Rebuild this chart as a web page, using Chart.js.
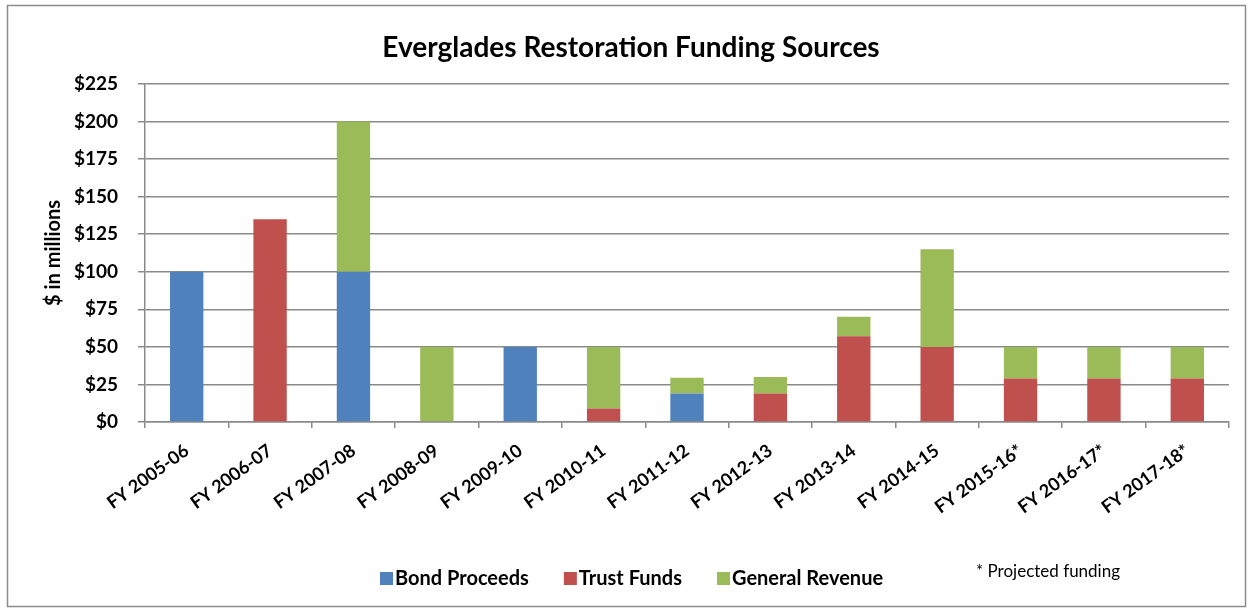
<!DOCTYPE html>
<html><head><meta charset="utf-8">
<script src="https://cdn.jsdelivr.net/npm/chart.js@4.4.1/dist/chart.umd.min.js"></script>
<style>html,body{margin:0;padding:0;background:#fff;overflow:hidden}canvas{display:block}</style>
</head><body>
<canvas id="c" width="1249" height="610"></canvas>
<script>
const categories = ['FY 2005-06','FY 2006-07','FY 2007-08','FY 2008-09','FY 2009-10','FY 2010-11','FY 2011-12','FY 2012-13','FY 2013-14','FY 2014-15','FY 2015-16*','FY 2016-17*','FY 2017-18*'];
const bondProceeds   = [100, 0, 100, 0, 50, 0, 19, 0, 0, 0, 0, 0, 0];
const trustFunds     = [0, 135, 0, 0, 0, 9, 0, 19, 57, 50, 29, 29, 29];
const generalRevenue = [0, 0, 100, 50, 0, 41, 10.5, 11, 13, 65, 21, 21, 21];
const yTickValues = [0, 25, 50, 75, 100, 125, 150, 175, 200, 225];
const seriesNames = ['Bond Proceeds', 'Trust Funds', 'General Revenue'];
const seriesColors = ['#4F81BD', '#C0504D', '#9BBB59'];
const chartTitle = 'Everglades Restoration Funding Sources';
const yAxisTitle = '$ in millions';
const footNote = '* Projected funding';

const FONT = 'Lato';
const GRID = '#8a8a8a';

const overlay = {
  id: 'overlay',
  beforeDraw(chart) {
    const ctx = chart.ctx;
    ctx.save();
    ctx.fillStyle = '#fff';
    ctx.fillRect(0, 0, chart.width, chart.height);
    ctx.restore();
  },
  afterDraw(chart) {
    const ctx = chart.ctx;
    ctx.save();
    ctx.strokeStyle = '#8c8c8c';
    ctx.lineWidth = 1.5;
    ctx.strokeRect(7.5, 5.5, 1238, 601);
    ctx.fillStyle = '#000';
    ctx.font = 'bold 28px ' + FONT;
    ctx.textAlign = 'center';
    ctx.textBaseline = 'alphabetic';
    ctx.fillText(chartTitle, 631, 57);
    // legend
    ctx.font = 'bold 20px ' + FONT;
    ctx.textAlign = 'left';
    ctx.textBaseline = 'middle';
    let x = 380;
    chart.data.datasets.forEach(ds => {
      ctx.fillStyle = ds.backgroundColor;
      ctx.fillRect(x, 572, 13, 13);
      ctx.fillStyle = '#000';
      ctx.fillText(ds.label, x + 15, 579);
      x += 15 + ctx.measureText(ds.label).width + 35;
    });
    ctx.font = '17px ' + FONT;
    ctx.fillText(footNote, 976, 572);
    ctx.restore();
  }
};

new Chart(document.getElementById('c'), {
  type: 'bar',
  data: {
    labels: categories,
    datasets: [
      { label: seriesNames[0], data: bondProceeds, backgroundColor: seriesColors[0] },
      { label: seriesNames[1], data: trustFunds, backgroundColor: seriesColors[1] },
      { label: seriesNames[2], data: generalRevenue, backgroundColor: seriesColors[2] }
    ]
  },
  plugins: [overlay],
  options: {
    responsive: false,
    animation: false,
    devicePixelRatio: 1,
    datasets: { bar: { categoryPercentage: 1, barPercentage: 0.40, borderWidth: 0 } },
    layout: { padding: { left: 0, right: 20, top: 84, bottom: 0 } },
    plugins: { legend: { display: false }, title: { display: false }, tooltip: { enabled: false } },
    scales: {
      x: {
        stacked: true,
        grid: { display: true, drawOnChartArea: false, drawTicks: true, tickLength: 6, color: GRID, lineWidth: 1.5, offset: true },
        border: { display: true, color: GRID, width: 1.5 },
        ticks: { color: '#000', font: { family: FONT, weight: 'bold', size: 18 }, minRotation: 36, maxRotation: 36, padding: 12, autoSkip: false },
        afterFit(s) { s.height = 188; }
      },
      y: {
        stacked: true,
        min: 0,
        max: 225,
        afterBuildTicks(s) { s.ticks = yTickValues.map(v => ({ value: v })); },
        ticks: { color: '#000', font: { family: FONT, weight: 'bold', size: 19 }, padding: 20, callback: v => '$' + v },
        grid: { color: GRID, lineWidth: 1.5, tickLength: 7 },
        border: { display: true, color: GRID, width: 1.5 },
        title: { display: true, text: yAxisTitle, color: '#000', font: { family: FONT, weight: 'bold', size: 20 }, padding: { top: 42, bottom: 0 } },
        afterFit(s) { s.width = 145; }
      }
    }
  }
});
</script>
</body></html>
